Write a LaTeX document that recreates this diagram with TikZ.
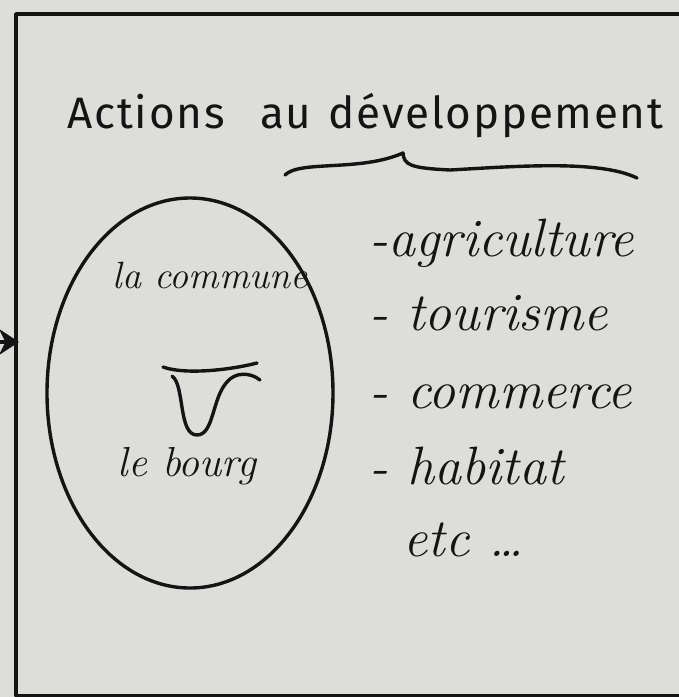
\documentclass[tikz,border=0pt]{standalone}
\usepackage{fontspec}
\usepackage{tikz}
\usetikzlibrary{arrows.meta,shapes.geometric}
\newfontfamily\titlefont[LetterSpace=4]{Fira Sans}
\definecolor{paper}{RGB}{221,221,218}
\definecolor{ink}{RGB}{20,20,20}

\begin{document}
\begin{tikzpicture}[x=1pt,y=-1pt]
% y is negative so that coordinates read like the pixels of the sheet

% style
\tikzset{
    inkLine/.style={draw=ink, line width=3.4pt, line cap=round, line join=round},
    arrowLine/.style={inkLine, -{Stealth[length=20pt, width=26pt]}},
    titleText/.style={text=ink, font=\titlefont\fontsize{44}{48}\selectfont},
    listText/.style={text=ink, anchor=base west, font=\itshape\fontsize{54}{58}\selectfont},
    ovalText/.style={text=ink, anchor=base, font=\itshape\fontsize{38}{40}\selectfont}
}

% sheet
\fill[paper] (0,0) rectangle (679,697);
\useasboundingbox (0,0) rectangle (679,697);
\clip (0,0) rectangle (679,697);

% frame
\draw[inkLine] (16,14) rectangle (700,696);
\coordinate (arrowStart) at (-30,342);
\coordinate (arrowEnd) at (19,342);
\draw[arrowLine] (arrowStart) -- (arrowEnd);

% title and brace
\node[titleText, anchor=base west] (title) at (64,128) {Actions\hspace{22pt} au\hspace{4pt} développement};
\draw[inkLine] (285,175) .. controls (300,160) and (360,172) .. (403,153)
  .. controls (404,165) and (410,168) .. (450,170)
  .. controls (520,166) and (600,160) .. (637,178);

% the commune
\node[inkLine, ellipse, minimum width=286pt, minimum height=390pt] (commune) at (190,393) {};
\node[ovalText] (communeLabel) at (210,288) {la commune};
\node[ovalText, font=\itshape\fontsize{42}{44}\selectfont] (bourgLabel) at (187,476) {le bourg};

% the bourg
\draw[inkLine] (163,367) .. controls (185,375) and (230,370) .. (257,363);
\draw[inkLine] (172,376) .. controls (185,385) and (178,435) .. (197,435)
  .. controls (214,435) and (212,398) .. (227,382)
  .. controls (235,372) and (250,372) .. (260,380);

% actions
\node[listText] (agri) at (366,256) {-agriculture};
\node[listText] (tourisme) at (366,330) {- tourisme};
\node[listText] (commerce) at (366,408) {- commerce};
\node[listText] (habitat) at (366,484) {- habitat};
\node[listText] (etc) at (400,556) {etc \dots};

\end{tikzpicture}
\end{document}
